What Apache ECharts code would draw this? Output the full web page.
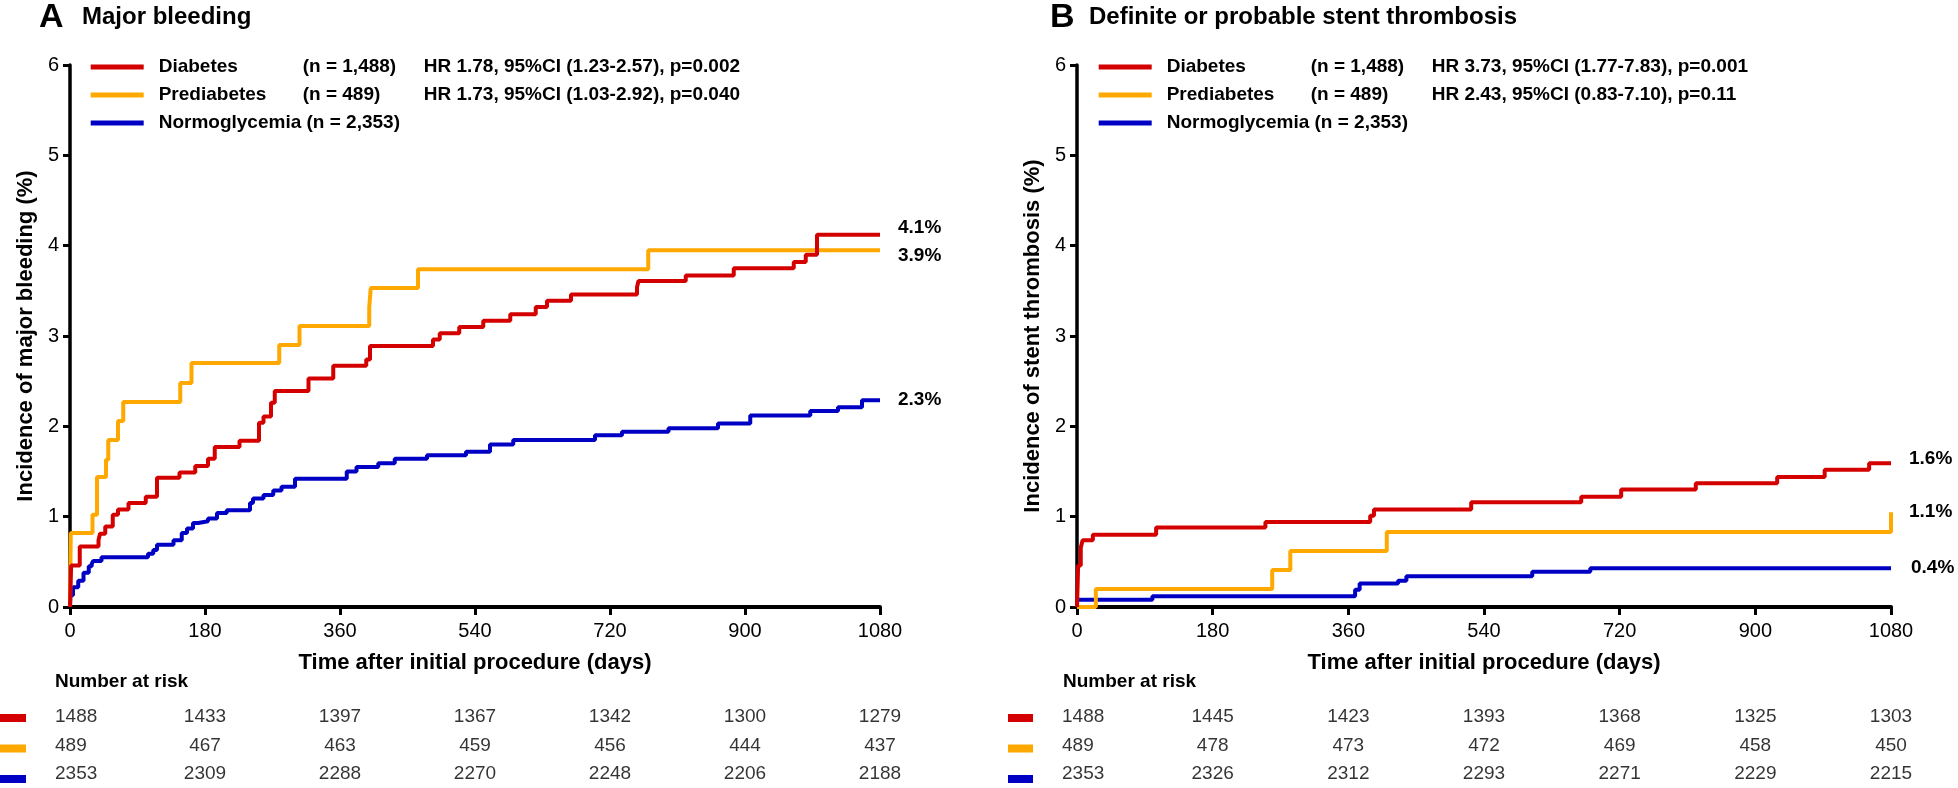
<!DOCTYPE html>
<html>
<head>
<meta charset="utf-8">
<script src="https://cdn.jsdelivr.net/npm/echarts/dist/echarts.min.js"></script>
<style>
html, body { margin: 0; background: #fff; }
#chart { width: 1958px; height: 788px; }
</style>
</head>
<body>
<div id="chart"></div>
<script>
const FONT = 'Liberation Sans, Arial, sans-serif';

// groups
const groups = ['Diabetes', 'Prediabetes', 'Normoglycemia'];
const colors = ['#d40000', '#ffa800', '#0000c4'];
const groupN = ['(n = 1,488)', '(n = 489)', '(n = 2,353)'];
const hrA = ['HR 1.78, 95%CI (1.23-2.57), p=0.002', 'HR 1.73, 95%CI (1.03-2.92), p=0.040', ''];
const hrB = ['HR 3.73, 95%CI (1.77-7.83), p=0.001', 'HR 2.43, 95%CI (0.83-7.10), p=0.11', ''];
const endLabelsA = ['4.1%', '3.9%', '2.3%'];
const endLabelsB = ['1.6%', '1.1%', '0.4%'];

// A: major bleeding, [day, %]
const diabetesA = [[0, 0], [1.5, 0.46], [13, 0.67], [38, 0.74], [40, 0.81], [47, 0.89], [57, 1.02], [64, 1.08],
    [78, 1.15], [101, 1.22], [116, 1.43], [146, 1.49], [167, 1.56], [184, 1.64], [193, 1.77], [226, 1.84],
    [252, 2.04], [258, 2.11], [268, 2.26], [273, 2.39], [318, 2.53], [351, 2.67], [395, 2.74], [400, 2.89],
    [484, 2.96], [493, 3.03], [519, 3.10], [551, 3.17], [587, 3.24], [621, 3.32], [636, 3.39], [668, 3.46],
    [756, 3.54], [758, 3.61], [821, 3.67], [885, 3.75], [965, 3.82], [981, 3.90], [996, 4.12], [1080, 4.12]];
const prediabetesA = [[0, 0], [1, 0.82], [30, 1.02], [36, 1.44], [48, 1.63], [51, 1.85], [64, 2.06], [71, 2.27],
    [147, 2.48], [162, 2.70], [279, 2.90], [306, 3.11], [399, 3.32], [401, 3.53], [464, 3.74], [771, 3.95], [1080, 3.95]];
const normoA = [[0, 0], [0.5, 0.13], [4, 0.22], [11, 0.29], [18, 0.38], [25, 0.45], [29, 0.48], [31, 0.51], [42, 0.55],
    [104, 0.59], [111, 0.63], [116, 0.69], [138, 0.74], [149, 0.82], [156, 0.87], [164, 0.93], [171, 0.95],
    [184, 0.98], [196, 1.04], [209, 1.07], [240, 1.15], [244, 1.20], [258, 1.24], [271, 1.29], [282, 1.33],
    [300, 1.42], [369, 1.50], [382, 1.55], [411, 1.59], [433, 1.64], [476, 1.68], [528, 1.72], [560, 1.80],
    [591, 1.85], [700, 1.90], [736, 1.94], [798, 1.98], [864, 2.03], [907, 2.12], [987, 2.17], [1024, 2.21],
    [1056, 2.29], [1080, 2.29]];

// B: definite or probable stent thrombosis
const diabetesB = [[0, 0], [1, 0.30], [1.5, 0.46], [5, 0.66], [7.5, 0.74], [21, 0.80], [105, 0.88], [250, 0.94],
    [389, 1.01], [394, 1.08], [523, 1.16], [669, 1.22], [722, 1.30], [821, 1.37], [929, 1.44], [992, 1.52],
    [1051, 1.59], [1080, 1.59]];
const prediabetesB = [[0, 0], [25, 0.20], [259, 0.41], [283, 0.62], [411, 0.83], [1080, 1.05]];
const normoB = [[0, 0.08], [100, 0.12], [369, 0.19], [375, 0.26], [426, 0.29], [437, 0.34], [604, 0.39], [681, 0.43], [1080, 0.43]];

// number at risk
const riskDays = [0, 180, 360, 540, 720, 900, 1080];
const riskDiabetesA = [1488, 1433, 1397, 1367, 1342, 1300, 1279];
const riskPrediabetesA = [489, 467, 463, 459, 456, 444, 437];
const riskNormoA = [2353, 2309, 2288, 2270, 2248, 2206, 2188];
const riskDiabetesB = [1488, 1445, 1423, 1393, 1368, 1325, 1303];
const riskPrediabetesB = [489, 478, 473, 472, 469, 458, 450];
const riskNormoB = [2353, 2326, 2312, 2293, 2271, 2229, 2215];

const chart = echarts.init(document.getElementById('chart'));

const txt = { color: '#000', fontFamily: FONT };

function legendRich() {
    const base = { fontSize: 19, fontWeight: 'bold', color: '#000', fontFamily: FONT, lineHeight: 20 };
    return {
        sp: Object.assign({}, base, { width: 10 }),
        a: Object.assign({}, base, { width: 144 }),
        b: Object.assign({}, base, { width: 121 }),
        c: Object.assign({}, base),
        a0: Object.assign({}, base)
    };
}

function legendFormatter(hr) {
    return function (name) {
        const i = groups.indexOf(name);
        if (!hr[i]) return '{sp| }{a0|' + name + ' ' + groupN[i] + '}';
        return '{sp| }{a|' + name + '}{b|' + groupN[i] + '}{c|' + hr[i] + '}';
    };
}

function makeLegend(left, hr) {
    return {
        left: left, top: 57.5, orient: 'vertical', padding: 0,
        itemWidth: 53, itemHeight: 5, itemGap: 9, icon: 'rect',
        selectedMode: false,
        data: groups.slice(),
        formatter: legendFormatter(hr),
        textStyle: { fontSize: 19, fontWeight: 'bold', color: '#000', fontFamily: FONT, rich: legendRich() }
    };
}

function xAxisFor(grid) {
    return {
        gridIndex: grid, type: 'value', min: 0, max: 1080, interval: 180,
        name: 'Time after initial procedure (days)', nameLocation: 'middle', nameGap: 45,
        nameTextStyle: Object.assign({ fontSize: 22, fontWeight: 'bold' }, txt),
        axisLine: { lineStyle: { color: '#000', width: 4 } },
        axisTick: { length: 8, lineStyle: { color: '#000', width: 3 } },
        axisLabel: Object.assign({ fontSize: 20, margin: 14, formatter: function (v) { return String(v); } }, txt),
        splitLine: { show: false }
    };
}

function yAxisFor(grid, name) {
    return {
        gridIndex: grid, type: 'value', min: 0, max: 6, interval: 1,
        name: name, nameLocation: 'middle', nameGap: 33,
        nameTextStyle: Object.assign({ fontSize: 22, fontWeight: 'bold' }, txt),
        axisLine: { show: true, lineStyle: { color: '#000', width: 3.5 } },
        axisTick: { show: true, length: 7, lineStyle: { color: '#000', width: 3 } },
        axisLabel: Object.assign({ fontSize: 20, margin: 11 }, txt),
        splitLine: { show: false }
    };
}

function curve(name, grid, data, color, label, offset) {
    return {
        name: name, type: 'line', step: 'end', xAxisIndex: grid, yAxisIndex: grid,
        data: data, showSymbol: false, symbol: 'none', animation: false,
        color: color,
        lineStyle: { color: color, width: 4 },
        itemStyle: { color: color },
        endLabel: Object.assign({ show: true, formatter: label, distance: 18, offset: offset,
            fontSize: 19, fontWeight: 'bold' }, txt),
        z: 3
    };
}

function riskSeries(grid, rows) {
    const data = [];
    rows.forEach(function (row, r) {
        row.forEach(function (n, c) {
            const item = { value: [riskDays[c], r, n] };
            if (c === 0) item.label = { align: 'left', offset: [-15, 0] };
            data.push(item);
        });
    });
    return {
        name: 'risk' + grid, type: 'scatter', xAxisIndex: grid, yAxisIndex: grid,
        data: data, symbolSize: 1, itemStyle: { color: 'rgba(0,0,0,0)' }, animation: false,
        silent: true,
        label: Object.assign({ show: true, position: 'inside', fontSize: 19,
            formatter: function (p) { return String(p.value[2]); } }, txt)
    };
}

function hiddenX(grid) {
    return { gridIndex: grid, type: 'value', min: 0, max: 1080, show: false };
}
function hiddenY(grid) {
    return { gridIndex: grid, type: 'category', data: groups.slice(), inverse: true, show: false };
}

function markers(x, w) {
    const ys = [718, 748.5, 779];
    return ys.map(function (y, i) {
        return { type: 'rect', left: x, top: y - 4, shape: { width: w, height: 8 }, style: { fill: colors[i] } };
    });
}

const option = {
    backgroundColor: '#fff',
    animation: false,
    title: [
        { text: 'A', left: 39, top: 1, padding: 0, textStyle: Object.assign({ fontSize: 34, fontWeight: 'bold' }, txt) },
        { text: 'Major bleeding', left: 82, top: 5, padding: 0, textStyle: Object.assign({ fontSize: 24, fontWeight: 'bold' }, txt) },
        { text: 'B', left: 1050, top: 1, padding: 0, textStyle: Object.assign({ fontSize: 34, fontWeight: 'bold' }, txt) },
        { text: 'Definite or probable stent thrombosis', left: 1089, top: 5, padding: 0, textStyle: Object.assign({ fontSize: 24, fontWeight: 'bold' }, txt) },
        { text: 'Number at risk', left: 55, top: 672, padding: 0, textStyle: Object.assign({ fontSize: 19, fontWeight: 'bold' }, txt) },
        { text: 'Number at risk', left: 1063, top: 672, padding: 0, textStyle: Object.assign({ fontSize: 19, fontWeight: 'bold' }, txt) }
    ],
    legend: [makeLegend(90.7, hrA), makeLegend(1098.7, hrB)],
    grid: [
        { left: 70, top: 65, width: 810, height: 542 },
        { left: 1077, top: 65, width: 814, height: 542 },
        { left: 70, top: 702.75, width: 810, height: 91.5 },
        { left: 1077, top: 702.75, width: 814, height: 91.5 }
    ],
    xAxis: [xAxisFor(0), xAxisFor(1), hiddenX(2), hiddenX(3)],
    yAxis: [
        yAxisFor(0, 'Incidence of major bleeding (%)'),
        yAxisFor(1, 'Incidence of stent thrombosis (%)'),
        hiddenY(2), hiddenY(3)
    ],
    graphic: markers(0, 26).concat(markers(1008, 25)),
    series: [
        curve(groups[2], 0, normoA, colors[2], endLabelsA[2], [0, 0]),
        curve(groups[1], 0, prediabetesA, colors[1], endLabelsA[1], [0, 6]),
        curve(groups[0], 0, diabetesA, colors[0], endLabelsA[0], [0, -7]),
        curve(groups[2], 1, normoB, colors[2], endLabelsB[2], [2, 0]),
        curve(groups[1], 1, prediabetesB, colors[1], endLabelsB[1], [0, 0]),
        curve(groups[0], 1, diabetesB, colors[0], endLabelsB[0], [0, -5]),
        riskSeries(2, [riskDiabetesA, riskPrediabetesA, riskNormoA]),
        riskSeries(3, [riskDiabetesB, riskPrediabetesB, riskNormoB])
    ]
};

chart.setOption(option);
</script>
</body>
</html>
